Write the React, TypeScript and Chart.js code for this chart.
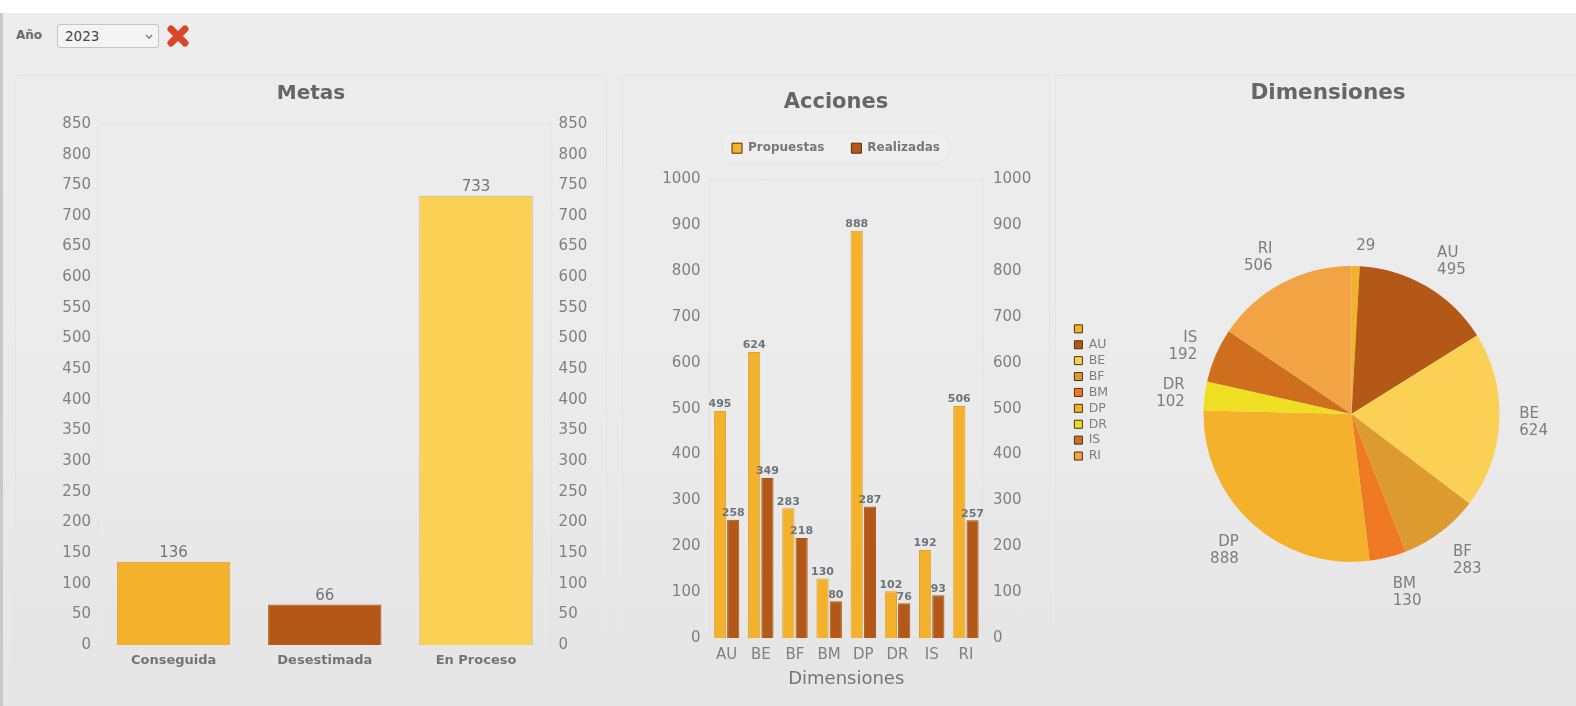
import React, { useEffect, useRef } from "react";
import { Chart, registerables } from "chart.js";

Chart.register(...registerables);

const FONT = "'DejaVu Sans', sans-serif";
const GREY = "#808080";

const metasLabels = ["Conseguida", "Desestimada", "En Proceso"];
const metasValues = [136, 66, 733];
const metasColors = ["#f4b12c", "#b45817", "#fbd155"];
const metasBorders = ["#d9a233", "#a85418", "#d0aa50"];

const accionesLabels = ["AU", "BE", "BF", "BM", "DP", "DR", "IS", "RI"];
const propuestas = [495, 624, 283, 130, 888, 102, 192, 506];
const realizadas = [258, 349, 218, 80, 287, 76, 93, 257];

const pieLabels = ["", "AU", "BE", "BF", "BM", "DP", "DR", "IS", "RI"];
const pieValues = [29, 495, 624, 283, 130, 888, 102, 192, 506];
const pieColors = ["#f4b12c", "#b45817", "#fbd155", "#dd9a2e", "#f07a23", "#f4b12c", "#efdf22", "#cf6e1d", "#f2a344"];

const plotFrame = {
  id: "plotFrame",
  beforeDatasetsDraw(chart: any) {
    const { ctx, chartArea: a } = chart;
    ctx.save();
    ctx.strokeStyle = "#e3e3e3";
    ctx.lineWidth = 1;
    ctx.strokeRect(a.left, a.top, a.right - a.left, a.bottom - a.top);
    ctx.restore();
  },
};

const barLabels = (font: string, color: string) => ({
  id: "barLabels",
  afterDatasetsDraw(chart: any) {
    const { ctx } = chart;
    ctx.save();
    ctx.font = font;
    ctx.fillStyle = color;
    ctx.textAlign = "center";
    ctx.textBaseline = "bottom";
    chart.data.datasets.forEach((ds: any, i: number) => {
      chart.getDatasetMeta(i).data.forEach((el: any, j: number) => {
        ctx.fillText(String(ds.data[j]), el.x, el.y - 1);
      });
    });
    ctx.restore();
  },
});

const legendFrame = {
  id: "legendFrame",
  beforeInit(chart: any) {
    const fit = chart.legend.fit;
    chart.legend.fit = function () {
      fit.call(this);
      this.height += 15.3;
    };
  },
  beforeDraw(chart: any) {
    const boxes = chart.legend.legendHitBoxes;
    if (!boxes || !boxes.length) return;
    const l = Math.min(...boxes.map((b: any) => b.left)) - 10;
    const r = Math.max(...boxes.map((b: any) => b.left + b.width)) + 9;
    const t = boxes[0].top - 10;
    const h = boxes[0].height + 19;
    const { ctx } = chart;
    ctx.save();
    ctx.fillStyle = "#eeeeee";
    ctx.strokeStyle = "#e6e6e6";
    ctx.beginPath();
    ctx.roundRect(l, t, r - l, h, 12);
    ctx.fill();
    ctx.stroke();
    ctx.restore();
  },
};

const pieOuterLabels = {
  id: "pieOuterLabels",
  afterDatasetsDraw(chart: any) {
    const { ctx } = chart;
    const lines = 17;
    ctx.save();
    ctx.font = `15px ${FONT}`;
    ctx.fillStyle = "#7d7d7d";
    ctx.textBaseline = "middle";
    chart.getDatasetMeta(0).data.forEach((arc: any, i: number) => {
      const mid = (arc.startAngle + arc.endAngle) / 2;
      const R = arc.outerRadius + 20;
      const ax = arc.x + Math.cos(mid) * R;
      const ay = arc.y + Math.sin(mid) * R;
      const up = -Math.sin(mid);
      const name = pieLabels[i];
      const cy = !name ? ay : up > 0 ? ay - 12 * up * up * up : ay - 16 * up;
      ctx.textAlign = Math.cos(mid) >= 0 ? "left" : "right";
      if (name) {
        ctx.fillText(name, ax, cy - lines / 2);
        ctx.fillText(String(pieValues[i]), ax, cy + lines / 2);
      } else {
        ctx.fillText(String(pieValues[i]), ax, cy);
      }
    });
    ctx.restore();
  },
};

const yAxis = (max: number, step: number, position: string, width: number, size: number, padding: number) => ({
  position,
  min: 0,
  max,
  grid: { display: false, drawTicks: false },
  border: { display: false },
  afterFit(s: any) {
    s.width = width;
  },
  ticks: {
    stepSize: step,
    color: GREY,
    padding,
    font: { family: FONT, size },
    callback: (v: any) => String(v),
  },
});

function useChart(make: (c: HTMLCanvasElement) => Chart) {
  const ref = useRef<HTMLCanvasElement>(null);
  useEffect(() => {
    const chart = make(ref.current!);
    return () => chart.destroy();
  }, []);
  return ref;
}

const titleOpt = (text: string, size: number, top: number, bottom: number) => ({
  display: true,
  text,
  color: "#666666",
  font: { family: FONT, size, weight: "bold" as const, lineHeight: 1.2 },
  padding: { top, bottom },
});

function makeMetas(c: HTMLCanvasElement) {
  return new Chart(c, {
    type: "bar",
    data: {
      labels: metasLabels,
      datasets: [
        {
          data: metasValues,
          backgroundColor: metasColors,
          borderColor: metasBorders,
          borderWidth: 1,
          barPercentage: 0.75,
          categoryPercentage: 1,
        },
      ],
    },
    options: {
      animation: false,
      responsive: false,
      plugins: { legend: { display: false }, tooltip: { enabled: false }, title: titleOpt("Metas", 20, 7, 18) },
      scales: {
        x: {
          grid: { display: false, drawTicks: false },
          border: { display: false },
          afterFit(s: any) {
            s.height = 47;
          },
          ticks: { color: "#747474", padding: 8, font: { family: FONT, size: 13, weight: "bold" } },
        },
        y: yAxis(850, 50, "left", 83, 15, 7),
        y2: yAxis(850, 50, "right", 55.4, 15, 7),
      },
    } as any,
    plugins: [plotFrame, barLabels(`15px ${FONT}`, "#757575")],
  });
}

function makeAcciones(c: HTMLCanvasElement) {
  const ds = (label: string, data: number[], color: string, border: string) => ({
    label,
    data,
    backgroundColor: color,
    borderColor: border,
    borderWidth: 1,
    barPercentage: 0.92,
    categoryPercentage: 0.776,
  });
  return new Chart(c, {
    type: "bar",
    data: {
      labels: accionesLabels,
      datasets: [ds("Propuestas", propuestas, "#f4b12c", "#dca334"), ds("Realizadas", realizadas, "#b45817", "#a85418")],
    },
    options: {
      animation: false,
      responsive: false,
      plugins: {
        tooltip: { enabled: false },
        title: titleOpt("Acciones", 21, 15, 0),
        legend: {
          position: "top",
          labels: {
            boxWidth: 10,
            boxHeight: 10,
            padding: 27,
            color: "#777777",
            font: { family: FONT, size: 12, weight: "bold" },
            generateLabels(chart: any) {
              return chart.data.datasets.map((d: any, i: number) => ({
                text: d.label,
                fillStyle: d.backgroundColor,
                strokeStyle: "#4a3010",
                lineWidth: 1,
                datasetIndex: i,
                fontColor: "#777777",
              }));
            },
          },
        },
      },
      scales: {
        x: {
          grid: { display: false, drawTicks: false },
          border: { display: false },
          afterFit(s: any) {
            s.height = 54;
          },
          title: { display: true, text: "Dimensiones", color: "#757575", padding: { top: 4, bottom: 2 }, font: { family: FONT, size: 18 } },
          ticks: { color: GREY, padding: 8, font: { family: FONT, size: 15 } },
        },
        y: yAxis(1000, 100, "left", 87.5, 15, 9),
        y2: yAxis(1000, 100, "right", 67, 15, 10),
      },
    } as any,
    plugins: [legendFrame, plotFrame, barLabels(`bold 11px ${FONT}`, "#6d757a")],
  });
}

function makePie(c: HTMLCanvasElement) {
  return new Chart(c, {
    type: "pie",
    data: {
      labels: pieLabels,
      datasets: [{ data: pieValues, backgroundColor: pieColors, borderWidth: 0, radius: 148 }],
    },
    options: {
      animation: false,
      responsive: false,
      layout: { padding: { left: 17 } },
      plugins: {
        tooltip: { enabled: false },
        title: titleOpt("Dimensiones", 21.5, 6, 17),
        legend: {
          position: "left",
          align: "start",
          title: { display: true, text: " ", padding: { top: 243, bottom: 0 }, font: { size: 1 } },
          labels: {
            boxWidth: 8,
            boxHeight: 8,
            padding: 3.4,
            color: "#7f7f7f",
            font: { family: FONT, size: 12.5 },
            generateLabels(chart: any) {
              return chart.data.labels.map((t: string, i: number) => ({
                text: t,
                fillStyle: pieColors[i],
                strokeStyle: "#4a3010",
                lineWidth: 1,
                index: i,
                fontColor: "#7f7f7f",
              }));
            },
          },
        },
      },
    } as any,
    plugins: [pieOuterLabels],
  });
}

const Box = ({ x, y, w, h, r }: any) => (
  <div
    style={{
      position: "absolute",
      left: x,
      top: y,
      width: w,
      height: h,
      border: "1px solid #e4e4e4",
      borderRadius: r ?? 3,
      boxSizing: "border-box",
    }}
  />
);

export default function App() {
  const a = useChart(makeMetas);
  const b = useChart(makeAcciones);
  const c = useChart(makePie);
  const place = (x: number, y: number): React.CSSProperties => ({ position: "absolute", left: x, top: y, display: "block" });
  return (
    <div style={{ position: "fixed", left: 0, top: 0, width: 1576, height: 706, overflow: "hidden", background: "#fff", fontFamily: FONT }}>
      <div
        style={{
          position: "absolute",
          left: 0,
          top: 13,
          width: 1576,
          height: 693,
          background: "linear-gradient(#ededed 0%, #ebebeb 55%, #e5e5e5 100%)",
          borderLeft: "3px solid #c9c9c9",
          boxSizing: "border-box",
        }}
      />
      <Box x={15} y={75} w={592} h={617} />
      <Box x={622} y={75} w={428} h={617} />
      <Box x={1055} y={75} w={530} h={617} />
      <div style={{ position: "absolute", left: 16, top: 28, fontSize: 12, fontWeight: "bold", color: "#6a6a6a" }}>Año</div>
      <div
        style={{
          position: "absolute",
          left: 57,
          top: 24,
          width: 102,
          height: 24,
          background: "#f4f4f4",
          border: "1px solid #c4c4c4",
          borderRadius: 3,
          boxSizing: "border-box",
          fontSize: 13.5,
          lineHeight: "22px",
          paddingLeft: 7,
          color: "#444",
        }}
      >
        2023
        <svg width="10" height="6" style={{ position: "absolute", right: 4, top: 9 }}>
          <path d="M2 1 L5 4 L8 1" stroke="#777" strokeWidth="1.3" fill="none" />
        </svg>
      </div>
      <svg width="24" height="24" style={{ position: "absolute", left: 166, top: 24 }}>
        <path d="M5 5 L19 19 M19 5 L5 19" stroke="#d9472b" strokeWidth="7" strokeLinecap="round" />
      </svg>
      <canvas ref={a} width={592} height={617} style={place(15, 75)} />
      <canvas ref={b} width={428} height={617} style={place(622, 75)} />
      <canvas ref={c} width={531} height={629} style={place(1054, 75)} />
    </div>
  );
}
